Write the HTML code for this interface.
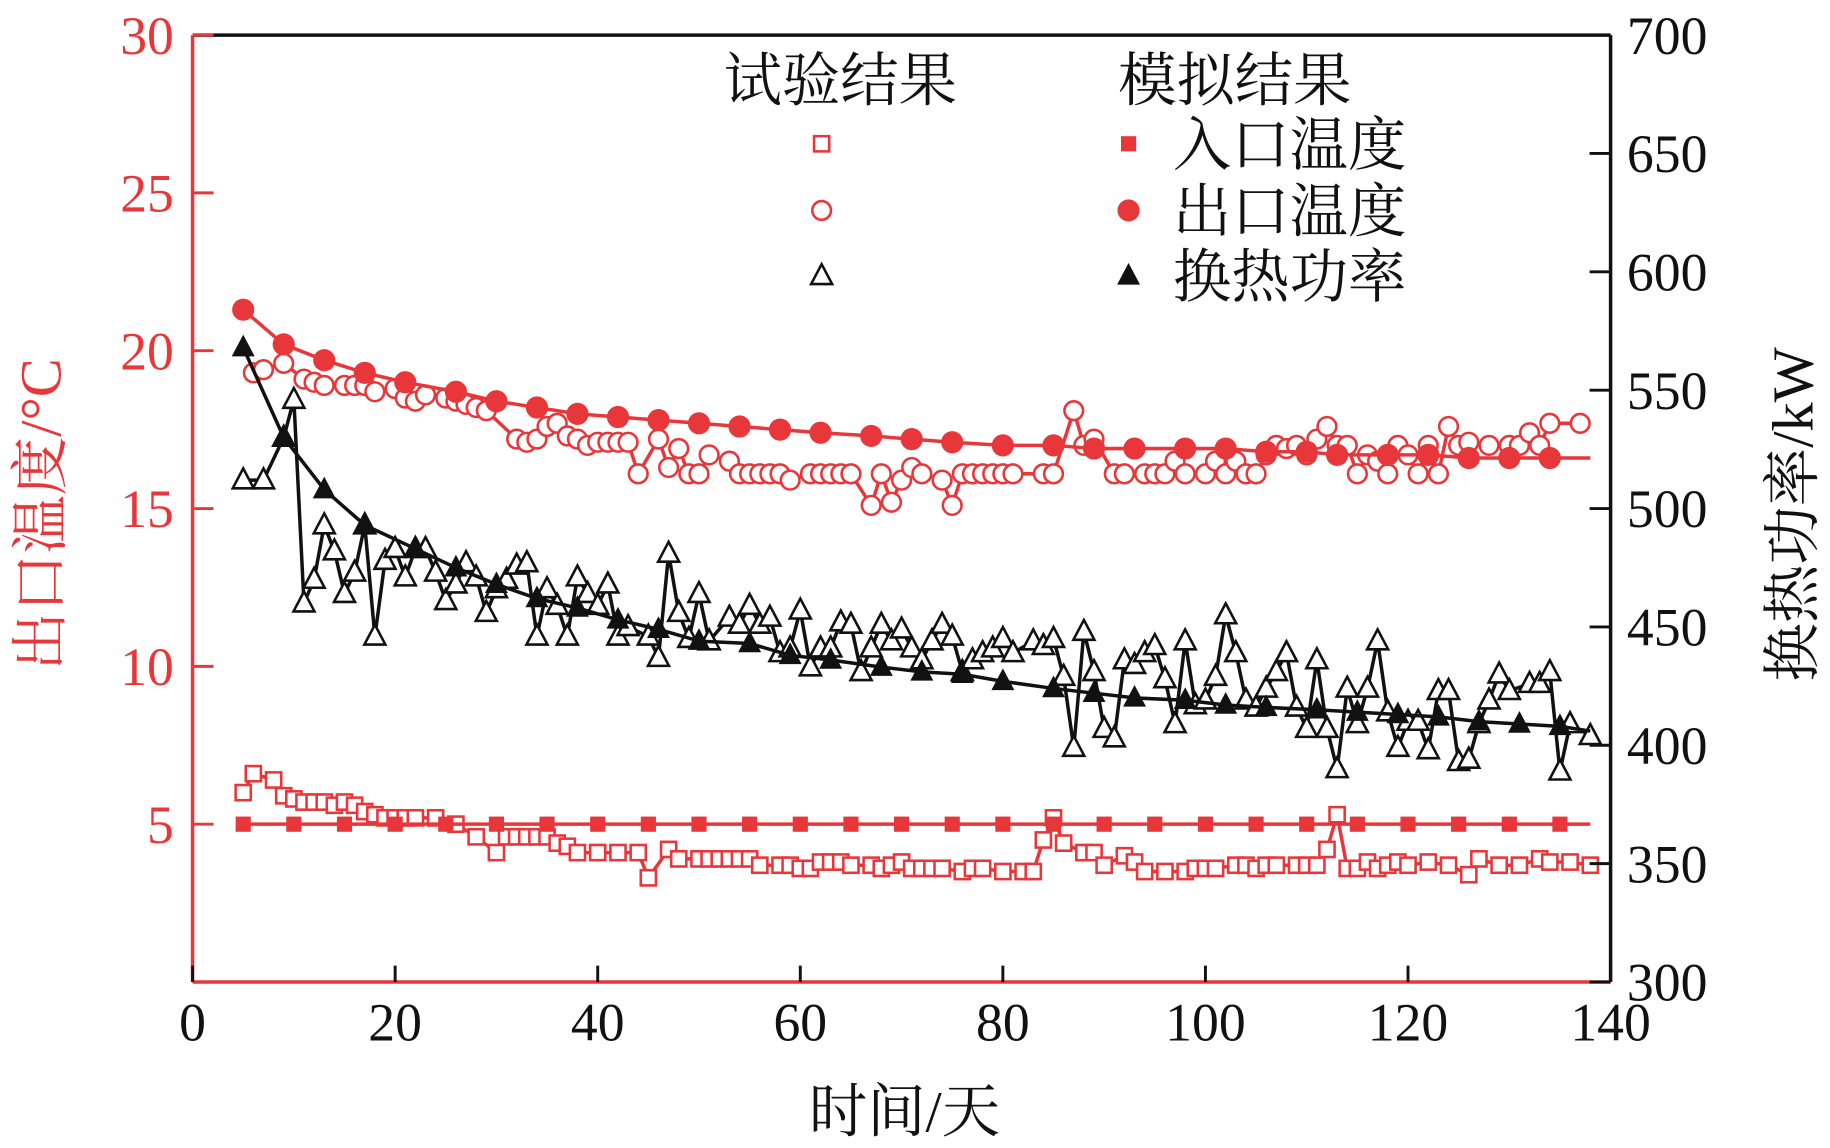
<!DOCTYPE html>
<html><head><meta charset="utf-8"><style>
html,body{margin:0;padding:0;background:#fff}
svg{display:block}
text{font-family:"Liberation Serif","Noto Serif CJK SC",serif}
.cjk{font-family:"Liberation Serif","Noto Serif CJK SC","Noto Sans CJK SC",serif}
</style></head><body>
<svg id="chart" width="1830" height="1148" viewBox="0 0 1568 982" preserveAspectRatio="none" xmlns="http://www.w3.org/2000/svg">
<g id="grid"></g>
<g id="marks"></g>
<g id="axes"></g>
<g id="legend"></g>
</svg>
<script>
const xTicks=[0,20,40,60,80,100,120,140];
const leftTicks=[5,10,15,20,25,30];
const rightTicks=[300,350,400,450,500,550,600,650,700];
const simInDays=[5,10,15,20,25,30,35,40,45,50,55,60,65,70,75,80,85,90,95,100,105,110,115,120,125,130,135];
const simInVals=[5,5,5,5,5,5,5,5,5,5,5,5,5,5,5,5,5,5,5,5,5,5,5,5,5,5,5];
const simOutDays=[5,9,13,17,21,26,30,34,38,42,46,50,54,58,62,67,71,75,80,85,89,93,98,102,106,110,113,118,122,126,130,134];
const simOutVals=[21.3,20.2,19.7,19.3,19.0,18.7,18.4,18.2,18.0,17.9,17.8,17.7,17.6,17.5,17.4,17.3,17.2,17.1,17.0,17.0,16.9,16.9,16.9,16.9,16.8,16.8,16.7,16.7,16.7,16.6,16.6,16.6];
const simOutEnd=[138,16.6];
const simPowDays=[5,9,13,17,22,26,30,34,38,42,46,50,55,59,63,68,72,76,80,85,89,93,98,102,106,111,115,119,123,127,131,135];
const simPowVals=[568,530,508,493,483,475,468,462,458,453,449,444,443,438,436,433,431,430,427,424,422,420,419,417,416,415,414,413,412,410,409,408];
const simPowEnd=[138,406];
const expPowDays=[5,7,9,10,11,12,13,14,15,16,17,18,19,20,21,22,23,24,25,26,27,28,29,30,31,32,33,34,35,36,37,38,39,40,41,42,43,45,46,47,48,49,50,51,53,54,55,56,57,58,59,60,61,62,63,64,65,66,67,68,69,70,71,72,73,74,75,76,77,78,79,80,81,83,84,85,86,87,88,89,90,91,92,93,94,95,96,97,98,99,100,101,102,103,104,105,106,107,108,109,110,111,112,113,114,115,116,117,118,119,120,121,122,123,124,125,126,127,128,129,130,132,133,134,135,136,138];
const expPowVals=[512,512,530,546,460,470,493,482,464,473,493,446,478,483,471,483,483,473,461,468,477,471,456,466,470,476,477,446,466,459,446,471,464,459,468,446,450,446,437,481,456,445,464,444,454,451,459,451,454,439,441,457,433,441,441,452,451,431,441,451,444,449,441,436,444,451,446,431,436,439,441,445,439,444,442,445,429,399,448,431,407,403,436,434,439,442,428,409,444,417,419,429,455,439,419,416,424,431,439,416,407,436,407,390,424,409,424,444,414,399,410,410,398,423,423,393,394,409,419,430,423,426,426,431,389,409,404];
const expOutDays=[6,7,9,11,12,13,15,16,17,18,20,21,22,23,25,26,27,28,29,32,33,34,35,36,37,38,39,40,41,42,43,44,46,47,48,49,50,51,53,54,55,56,57,58,59,61,62,63,64,65,67,68,69,70,71,72,74,75,76,77,78,79,80,81,84,85,87,88,89,91,92,94,95,96,97,98,100,101,102,103,104,105,106,107,108,109,110,111,112,113,114,115,116,117,118,119,120,121,122,123,124,125,126,128,130,131,132,133,134,137];
const expOutVals=[19.3,19.4,19.6,19.1,19.0,18.9,18.9,18.9,18.9,18.7,18.8,18.5,18.4,18.6,18.5,18.4,18.3,18.2,18.1,17.2,17.1,17.2,17.6,17.7,17.3,17.2,17.0,17.1,17.1,17.1,17.1,16.1,17.2,16.3,16.9,16.1,16.1,16.7,16.5,16.1,16.1,16.1,16.1,16.1,15.9,16.1,16.1,16.1,16.1,16.1,15.1,16.1,15.2,15.9,16.3,16.1,15.9,15.1,16.1,16.1,16.1,16.1,16.1,16.1,16.1,16.1,18.1,17.0,17.2,16.1,16.1,16.1,16.1,16.1,16.5,16.1,16.1,16.5,16.1,16.5,16.1,16.1,16.7,17.0,16.9,17.0,16.7,17.2,17.6,17.0,17.0,16.1,16.7,16.5,16.1,17.0,16.7,16.1,17.0,16.1,17.6,17.0,17.1,17.0,17.0,17.0,17.4,17.0,17.7,17.7];
const expInDays=[5,6,8,9,10,11,12,13,14,15,16,17,18,19,20,21,22,24,26,28,30,31,32,33,34,35,36,37,38,40,42,44,45,47,48,50,51,52,53,54,55,56,58,59,60,61,62,63,64,65,67,68,69,70,71,72,73,74,76,77,78,80,82,83,84,85,86,88,89,90,92,93,94,96,98,99,100,101,103,104,105,106,107,109,110,111,112,113,114,115,116,117,118,119,120,122,124,126,127,129,131,133,134,136,138];
const expInVals=[6.0,6.6,6.4,5.9,5.8,5.7,5.7,5.7,5.6,5.7,5.6,5.4,5.3,5.2,5.2,5.2,5.2,5.2,5.0,4.6,4.1,4.6,4.6,4.6,4.6,4.6,4.4,4.3,4.1,4.1,4.1,4.1,3.3,4.2,3.9,3.9,3.9,3.9,3.9,3.9,3.9,3.7,3.7,3.7,3.6,3.6,3.8,3.8,3.8,3.7,3.7,3.6,3.7,3.8,3.6,3.6,3.6,3.6,3.5,3.6,3.6,3.5,3.5,3.5,4.5,5.2,4.4,4.1,4.1,3.7,4.0,3.8,3.5,3.5,3.5,3.6,3.6,3.6,3.7,3.7,3.6,3.7,3.7,3.7,3.7,3.7,4.2,5.3,3.6,3.6,3.8,3.6,3.7,3.8,3.7,3.8,3.7,3.4,3.9,3.7,3.7,3.9,3.8,3.8,3.7];

const RED='#e8373a', BLK='#111';
const X0=165,X1=1380,YB=840,YT=30;
const xs=d=>X0+(X1-X0)*d/140;
const yl=v=>YB-(YB-YT)*v/30;
const yr=v=>YB-(YB-YT)*(v-300)/400;
const NS='http://www.w3.org/2000/svg';
function mk(tag,attrs,parent){const e=document.createElementNS(NS,tag);for(const k in attrs)e.setAttribute(k,attrs[k]);parent.appendChild(e);return e;}
const marks=document.getElementById('marks'),axes=document.getElementById('axes'),legend=document.getElementById('legend');

function line(days,vals,ys,color,name){const p=days.map((d,i)=>xs(d)+','+ys(vals[i])).join(' ');
 const e=mk('polyline',{points:p,fill:'none',stroke:color,'stroke-width':3,'stroke-linejoin':'round'},marks);
 
 }
function marker(kind,cx,cy,color,filled,parent){let e;
 if(kind==='sq'){const s=filled?12:13;e=mk('rect',{x:cx-s/2,y:cy-s/2,width:s,height:s},parent);}
 else if(kind==='ci'){e=mk('circle',{cx:cx,cy:cy,r:filled?9:8},parent);}
 else {e=mk('polygon',{points:`${cx},${cy-10} ${cx-9},${cy+7} ${cx+9},${cy+7}`},parent);}
 e.setAttribute('fill',filled?color:'#fff');e.setAttribute('stroke',color);e.setAttribute('stroke-width',filled?1:2.2);return e;}
function pts(days,vals,ys,kind,color,filled,name){days.forEach((d,i)=>{const e=marker(kind,xs(d),ys(vals[i]),color,filled,marks);
 
 });}

line(expPowDays,expPowVals,yr,BLK,'exp-power-line');
pts(expPowDays,expPowVals,yr,'tr',BLK,false,'exp-power-point');
line(expOutDays,expOutVals,yl,RED,'exp-outlet-line');
pts(expOutDays,expOutVals,yl,'ci',RED,false,'exp-outlet-point');
line(expInDays,expInVals,yl,RED,'exp-inlet-line');
pts(expInDays,expInVals,yl,'sq',RED,false,'exp-inlet-point');
line(simPowDays.concat([simPowEnd[0]]),simPowVals.concat([simPowEnd[1]]),yr,BLK,'sim-power-line');
pts(simPowDays,simPowVals,yr,'tr',BLK,true,'sim-power-point');
line(simOutDays.concat([simOutEnd[0]]),simOutVals.concat([simOutEnd[1]]),yl,RED,'sim-outlet-line');
pts(simOutDays,simOutVals,yl,'ci',RED,true,'sim-outlet-point');
line(simInDays.concat([138]),simInVals.concat([5]),yl,RED,'sim-inlet-line');
pts(simInDays,simInVals,yl,'sq',RED,true,'sim-inlet-point');

let e;
e=mk('line',{x1:X0,y1:YT,x2:X1,y2:YT,stroke:BLK,'stroke-width':3},axes);
e=mk('line',{x1:X1,y1:YT,x2:X1,y2:YB,stroke:BLK,'stroke-width':3},axes);
e=mk('line',{x1:X0,y1:YB,x2:X1,y2:YB,stroke:RED,'stroke-width':3},axes);
e=mk('line',{x1:X0,y1:YT,x2:X0,y2:YB,stroke:RED,'stroke-width':3},axes);
xTicks.forEach(t=>{const x=xs(t);mk('line',{x1:x,y1:YB,x2:x,y2:YB-14,stroke:BLK,'stroke-width':2.5},axes);
 const tx=mk('text',{x:x,y:YB+50,'font-size':46,'text-anchor':'middle',fill:BLK},axes);tx.textContent=t;
 
 });
leftTicks.forEach(t=>{const y=yl(t);mk('line',{x1:X0,y1:y,x2:X0+18,y2:y,stroke:RED,'stroke-width':2.5},axes);
 const tx=mk('text',{x:X0-16,y:y+16,'font-size':46,'text-anchor':'end',fill:RED},axes);tx.textContent=t;
 
 });
rightTicks.forEach(t=>{const y=yr(t);mk('line',{x1:X1,y1:y,x2:X1-18,y2:y,stroke:BLK,'stroke-width':2.5},axes);
 const tx=mk('text',{x:X1+14,y:y+16,'font-size':46,'text-anchor':'start',fill:BLK},axes);tx.textContent=t;
 
 });
e=mk('text',{x:775,y:968,'font-size':50,'text-anchor':'middle',fill:BLK,class:'cjk'},axes);e.textContent='时间/天';

e=mk('text',{x:0,y:0,'font-size':50,'text-anchor':'middle',fill:RED,class:'cjk',transform:'translate(52,440) rotate(-90)'},axes);e.textContent='出口温度/°C';

e=mk('text',{x:0,y:0,'font-size':50,'text-anchor':'middle',fill:BLK,class:'cjk',transform:'translate(1553,440) rotate(-90)'},axes);e.textContent='换热功率/kW';


e=mk('text',{x:720,y:86,'font-size':50,'text-anchor':'middle',fill:BLK,class:'cjk'},legend);e.textContent='试验结果';

e=mk('text',{x:1058,y:86,'font-size':50,'text-anchor':'middle',fill:BLK,class:'cjk'},legend);e.textContent='模拟结果';

const legRows=[['sq',RED,'入口温度',123],['ci',RED,'出口温度',180],['tr',BLK,'换热功率',236]];
legRows.forEach(r=>{marker(r[0],704,r[3],r[1],false,legend);marker(r[0],967,r[3],r[1],true,legend);
 const tx=mk('text',{x:1005,y:r[3]+18,'font-size':50,fill:BLK,class:'cjk'},legend);tx.textContent=r[2];
 
 });
</script>
</body></html>
